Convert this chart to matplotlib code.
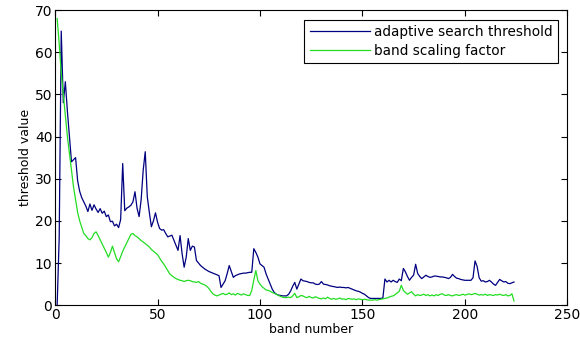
import numpy as np
import matplotlib.pyplot as plt

bands = np.arange(1, 225)

adaptive_threshold = [
    0, 16, 65, 48, 53, 46, 40, 34, 34.5, 35,
    29.5, 27, 25.5, 24.5, 23.5, 22.2, 24, 22.5, 23.8, 22.8,
    22, 22.9, 21.8, 22.3, 21, 21.4, 19.8, 19.9, 18.8, 19.2,
    18.4, 20.3, 33.6, 22.4, 23, 23.3, 23.7, 24.5, 26.9, 23,
    21, 25, 32, 36.4, 25.7, 22, 18.6, 20, 21.9, 19.7,
    18.2, 17.8, 17.9, 17, 16.2, 16.4, 16.6, 15.4, 14.2, 13,
    16.5, 12.2, 9, 11.4, 15.8, 13, 14, 13.8, 10.6, 10,
    9.4, 9, 8.6, 8.3, 8, 7.8, 7.6, 7.4, 7.2, 7,
    4.2, 5, 5.8, 7.5, 9.4, 8, 6.6, 7, 7.2, 7.4,
    7.5, 7.6, 7.6, 7.7, 7.8, 7.8, 13.4, 12.5, 11.4, 9.8,
    9.4, 9, 7.4, 6.2, 5, 3.8, 3, 2.6, 2.4, 2.3,
    2.2, 2.2, 2.2, 2.6, 3.4, 4.5, 5.4, 3.8, 5, 6.2,
    5.8, 5.7, 5.6, 5.4, 5.3, 5.3, 5.0, 4.9, 5.0, 5.6,
    5.0, 4.9, 4.8, 4.6, 4.5, 4.4, 4.3, 4.2, 4.3, 4.2,
    4.2, 4.1, 4.2, 4.0, 3.8, 3.6, 3.4, 3.3, 3.1, 2.8,
    2.6, 2.2, 1.8, 1.6, 1.6, 1.6, 1.6, 1.6, 1.6, 1.7,
    6.2, 5.5, 5.9, 5.5, 5.9, 5.6, 5.4, 6.2, 5.8, 8.7,
    7.9, 6.8, 5.9, 6.6, 7.1, 9.7, 7.5, 6.8, 6.3, 6.7,
    7.1, 6.8, 6.6, 6.7, 6.9, 6.9, 6.8, 6.7, 6.7, 6.6,
    6.5, 6.3, 6.6, 7.3, 6.8, 6.4, 6.3, 6.1, 6.0, 5.9,
    5.9, 5.9, 5.9, 6.5, 10.5, 9.2, 6.5, 5.7, 5.8, 5.5,
    5.6, 5.9, 5.5, 5.0, 4.7, 5.4, 6.1, 5.8, 5.5, 5.6,
    5.2, 5.1, 5.3, 5.5,
]

scaling_factor = [
    68, 62, 55, 50, 45, 40, 36, 32, 28, 25,
    22, 20, 18.5, 17, 16.5, 15.8, 15.5, 16, 17, 17.4,
    16.5, 15.5, 14.5, 13.5, 12.5, 11.4, 12.5, 14, 12.5, 11,
    10.3, 11.5, 12.8, 13.8, 14.8, 15.8, 16.8, 17, 16.5, 16.2,
    15.8, 15.3, 15, 14.6, 14.2, 13.8, 13.2, 12.8, 12.4, 12,
    11.2, 10.4, 9.8, 9, 8.2, 7.4, 7, 6.6, 6.3, 6.1,
    5.9, 5.8, 5.6, 5.8, 5.9, 5.8, 5.6, 5.5, 5.4, 5.6,
    5.2, 5, 4.8, 4.5, 4, 3.3, 2.7, 2.4, 2.2, 2.4,
    2.6, 2.8, 2.5, 2.6, 2.9, 2.5, 2.7, 2.4, 2.8, 2.6,
    2.4, 2.7, 2.5, 2.3, 2.3, 3.5, 6, 8.2, 5.8, 5,
    4.4, 4, 3.6, 3.5, 3.3, 3, 2.8, 2.6, 2.3, 2.1,
    1.9, 1.8, 1.8, 1.9, 1.8, 2.2, 2.8, 1.8, 2.0, 2.3,
    2.2, 1.9, 1.8, 2.1, 1.8, 1.7, 2.0, 1.8, 1.6, 1.5,
    1.7, 1.5, 1.9, 1.6, 1.4, 1.6, 1.4, 1.5, 1.7, 1.4,
    1.5, 1.3, 1.6, 1.5, 1.4, 1.5, 1.3, 1.5, 1.4, 1.3,
    1.4, 1.3, 1.2, 1.2, 1.2, 1.3, 1.2, 1.3, 1.4, 1.5,
    1.6, 1.7, 1.9, 2.1, 2.2, 2.5, 2.9, 3.3, 4.7, 3.5,
    3.0, 2.6, 2.9, 3.2, 2.6, 2.2, 2.5, 2.3, 2.4, 2.6,
    2.3, 2.5, 2.2, 2.4, 2.2, 2.5, 2.3, 2.6, 2.7, 2.4,
    2.3, 2.5, 2.3, 2.2, 2.4, 2.5, 2.3, 2.4, 2.6, 2.4,
    2.5, 2.7, 2.5, 2.6, 2.8, 2.6, 2.4, 2.5, 2.4, 2.6,
    2.3, 2.5, 2.4, 2.3, 2.5, 2.4, 2.6, 2.4, 2.3, 2.5,
    2.2, 2.3, 2.7, 1.0,
]

fig = plt.figure(figsize=(5.8, 3.46), dpi=100)
ax = fig.add_axes([0.095, 0.118, 0.883, 0.853])

ax.plot(bands, adaptive_threshold, color='#000080', lw=0.9, label='adaptive search threshold')
ax.plot(bands, scaling_factor, color='#22dd22', lw=0.9, label='band scaling factor')

ax.set_xlim(0, 250)
ax.set_ylim(0, 70)
ax.set_xticks(np.arange(0, 251, 50))
ax.set_yticks(np.arange(0, 71, 10))
ax.tick_params(direction='in', length=4, width=0.8, top=True, right=True, labelsize=10, pad=2)
for s in ax.spines.values():
    s.set_linewidth(0.8)

ax.set_xlabel('band number', fontsize=9, labelpad=1)
ax.set_ylabel('threshold value', fontsize=9, labelpad=2)

leg = ax.legend(loc='upper right', fontsize=9.8, handlelength=4.4, fancybox=False,
                framealpha=1, edgecolor='black', borderaxespad=0.7, handletextpad=0.3,
                labelspacing=0.35, borderpad=0.4)
leg.get_frame().set_linewidth(0.8)

fig.savefig('out.png', dpi=100)
